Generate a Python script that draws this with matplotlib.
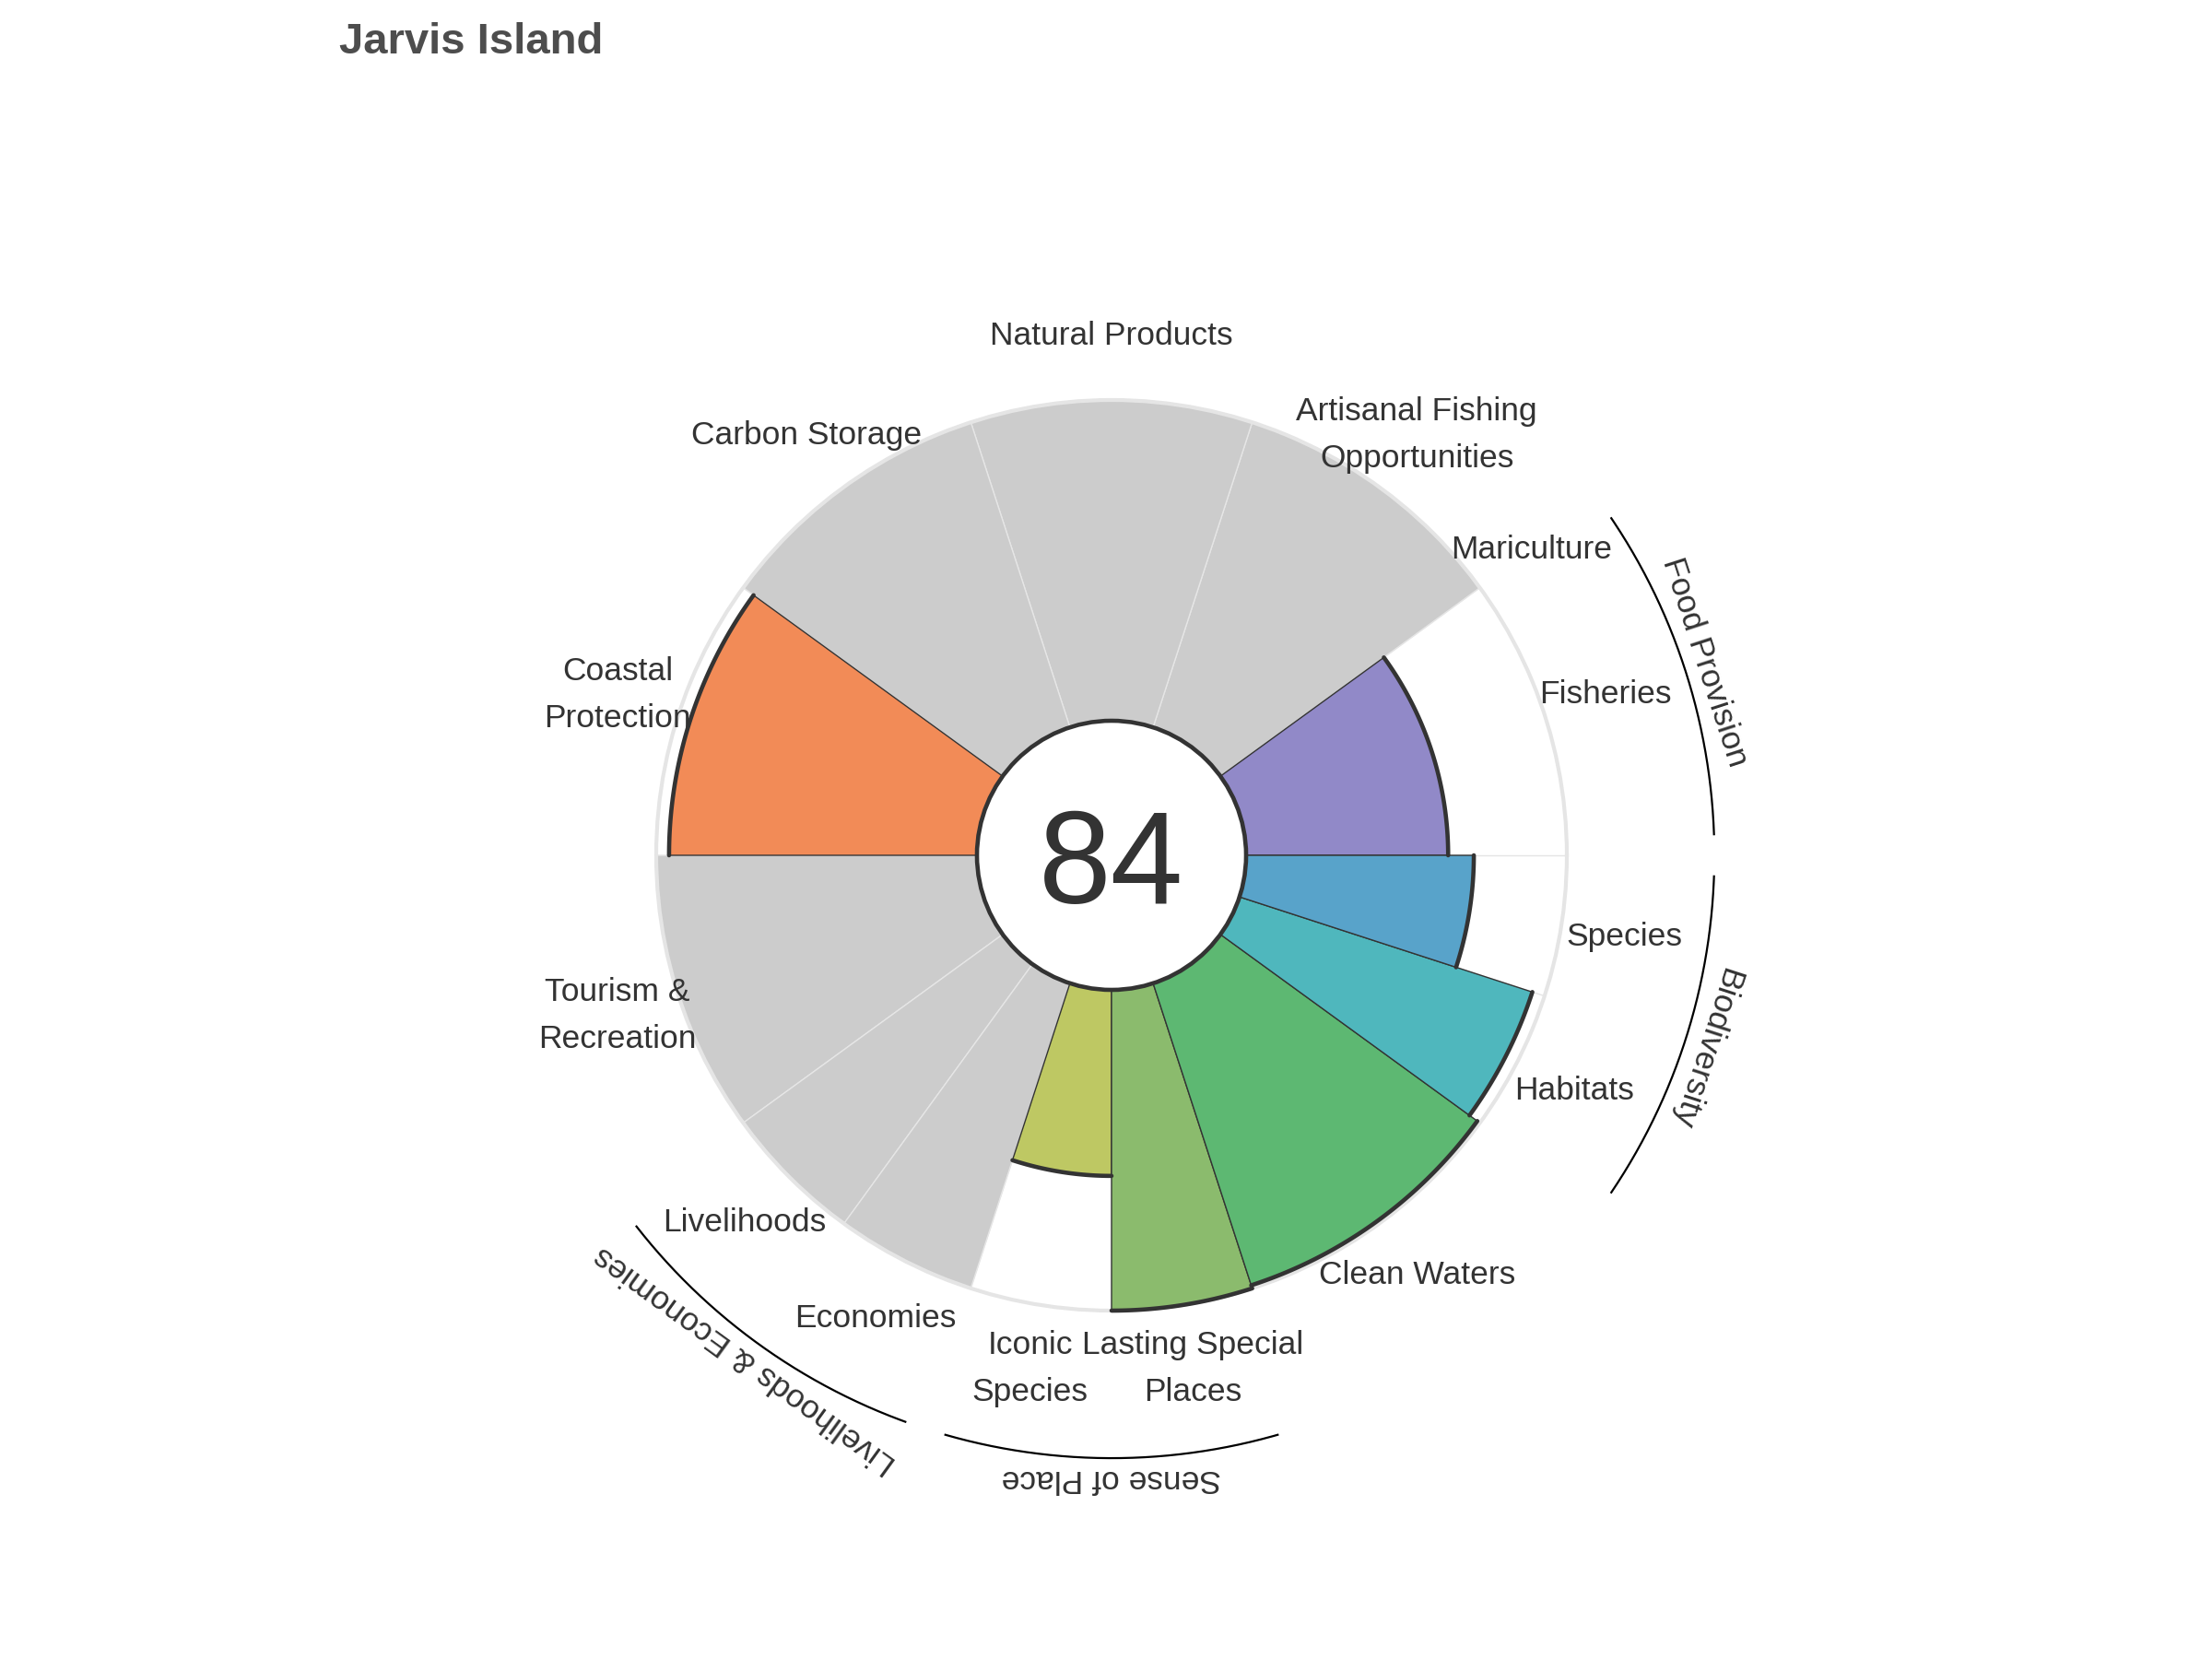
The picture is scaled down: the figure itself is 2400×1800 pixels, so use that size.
import numpy as np
import matplotlib.pyplot as plt
from matplotlib.patches import Circle

plt.rcParams['font.family'] = ['Liberation Sans', 'DejaVu Sans']

# Data
region = "Jarvis Island"
index_score = 84

labels = ['Fisheries', 'Mariculture', 'Artisanal Fishing\nOpportunities', 'Natural Products',
          'Carbon Storage', 'Coastal\nProtection', 'Tourism &\nRecreation', 'Livelihoods',
          'Economies', 'Iconic\nSpecies', 'Lasting Special\nPlaces', 'Clean Waters',
          'Habitats', 'Species']
scores = [63, np.nan, np.nan, np.nan, np.nan, 96, np.nan, np.nan, np.nan, 58, 100, 99, 96, 71]
# share of a goal's 1/10 of the circle given to each sub-goal
weights = [1.0, 0.0, 1, 1, 1, 1, 1, 0.5, 0.5, 0.5, 0.5, 1, 0.5, 0.5]
colors = ['#9189c8', '#9189c8', '#cccccc', '#cccccc', '#cccccc', '#f28b57', '#cccccc',
          '#cccccc', '#cccccc', '#bec863', '#8bbb6d', '#5db872', '#4fb7bd', '#58a3ca']

groups = ['Food Provision', 'Livelihoods & Economies', 'Sense of Place', 'Biodiversity']
group_first = [0, 7, 9, 12]
group_last = [1, 8, 10, 13]

NA_COLOR = '#cccccc'
GRID = '#e5e5e5'
DARK = '#333333'

# angles (degrees), counter-clockwise from east
widths = np.array(weights) * 36.0
starts = np.concatenate([[0], np.cumsum(widths)[:-1]])
ends = starts + widths
mids = starts + widths / 2

fig = plt.figure(figsize=(24, 18), dpi=100)
fig.patch.set_facecolor('white')

# polar axes: centre (1206, 928) px, outer radius 494 px, hole 146 px
R_OUT, R_HOLE = 494, 146
cx, cy = 1206, 928
ax = fig.add_axes([(cx - R_OUT) / 2400, (1800 - cy - R_OUT) / 1800,
                   2 * R_OUT / 2400, 2 * R_OUT / 1800], projection='polar')
h = 100 * R_HOLE / (R_OUT - R_HOLE)
ax.set_rorigin(-h)
ax.set_ylim(0, 100)

bounds = np.unique(np.round(np.concatenate([starts, ends]) % 360, 6))
ax.set_xticks(np.deg2rad(bounds))
ax.set_xticklabels([])
ax.set_yticks([])
ax.grid(True, axis='x', color=GRID, linewidth=1.0)
ax.set_axisbelow(True)
ax.spines['polar'].set_color(GRID)
ax.spines['polar'].set_linewidth(3)
for s in ['inner', 'start', 'end']:
    if s in ax.spines:
        ax.spines[s].set_visible(False)

for i in range(len(labels)):
    w = widths[i]
    if w <= 0:
        continue
    th = np.deg2rad(mids[i])
    if np.isnan(scores[i]):
        ax.bar(th, 100, width=np.deg2rad(w), bottom=0, color=NA_COLOR,
               edgecolor='#e6e6e6', linewidth=1.0, zorder=2)
    else:
        ax.bar(th, scores[i], width=np.deg2rad(w), bottom=0, color=colors[i],
               edgecolor=DARK, linewidth=1.0, zorder=3)
        arc = np.deg2rad(np.linspace(starts[i], ends[i], 120))
        ax.plot(arc, np.full_like(arc, scores[i]), color=DARK, linewidth=3.3,
                solid_capstyle='round', zorder=4, clip_on=False)

# sub-goal labels
for i, lab in enumerate(labels):
    ax.text(np.deg2rad(mids[i]), 120, lab, ha='center', va='center', fontsize=25.5,
            color=DARK, linespacing=1.68, clip_on=False)

# goal group arcs and labels
for g, name in enumerate(groups):
    a0 = starts[group_first[g]] + 2
    a1 = ends[group_last[g]] - 2
    arc = np.deg2rad(np.linspace(a0, a1, 200))
    ax.plot(arc, np.full_like(arc, 146), color='black', linewidth=1.6, clip_on=False)
    mid = (starts[group_first[g]] + ends[group_last[g]]) / 2
    ax.text(np.deg2rad(mid), 152.5, name, ha='center', va='center', fontsize=25.5,
            color=DARK, rotation=mid - 90, rotation_mode='anchor', clip_on=False)

# centre disc with the index score
ax.add_patch(Circle((0.5, 0.5), R_HOLE / (2 * R_OUT), transform=ax.transAxes,
                    facecolor='white', edgecolor=DARK, linewidth=3.3, zorder=5, clip_on=False))
ax.text(0.5, 0.5 - 52 / (2 * R_OUT), str(index_score), transform=ax.transAxes,
        ha='center', va='baseline', fontsize=102, color=DARK, zorder=6)

fig.text(368 / 2400, 1 - 58 / 1800, region, ha='left', va='baseline', fontsize=34,
         fontweight='bold', color='#4d4d4d')

fig.savefig('out.png', dpi=100, facecolor='white')
